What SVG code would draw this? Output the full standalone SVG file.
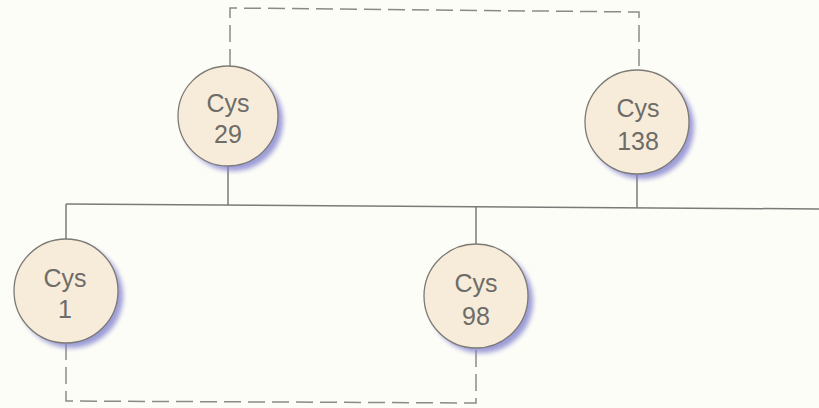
<svg xmlns="http://www.w3.org/2000/svg" width="819" height="408" viewBox="0 0 819 408">
<defs>
<style>
.bg{fill:#fdfdf8}
.node circle{fill:#f7ecda;stroke:#7d7a74;stroke-width:1.3}
.node circle.shadow{fill:#8383cf;stroke:none;opacity:0.8;filter:url(#blur)}
.node text{font-family:"Liberation Sans","DejaVu Sans",sans-serif;font-size:25px;fill:#6e6c68;text-anchor:middle}
.solid{fill:none;stroke:#7a7a78;stroke-width:1.5}
.dash{fill:none;stroke:#8a8a86;stroke-width:1.5;stroke-dasharray:17 7}
</style>
<filter id="blur" x="-20%" y="-20%" width="140%" height="140%"><feGaussianBlur stdDeviation="2.5"/></filter>
</defs>
<rect class="bg" x="0" y="0" width="819" height="408"/>
<g id="connectors">
<polyline class="solid" points="66,204 819,209"/>
<line class="solid" x1="66" y1="204" x2="66" y2="239"/>
<line class="solid" x1="228" y1="166" x2="228" y2="205"/>
<line class="solid" x1="476" y1="206" x2="476" y2="244"/>
<line class="solid" x1="637" y1="174" x2="637" y2="208"/>
<polyline class="dash" points="230,66 230,8 639,12 639,70"/>
<polyline class="dash" points="66,343 66,401 476,403 476,348"/>
</g>
<g id="cys29" class="node">
<circle class="shadow" cx="233" cy="121" r="50"/>
<circle cx="228" cy="116" r="50"/>
<text x="228" y="112">Cys</text>
<text x="228" y="143">29</text>
</g>
<g id="cys138" class="node">
<circle class="shadow" cx="642" cy="127" r="52"/>
<circle cx="637" cy="122" r="52"/>
<text x="638" y="117">Cys</text>
<text x="638" y="150">138</text>
</g>
<g id="cys1" class="node">
<circle class="shadow" cx="71" cy="296" r="52"/>
<circle cx="66" cy="291" r="52"/>
<text x="65" y="287">Cys</text>
<text x="65" y="318">1</text>
</g>
<g id="cys98" class="node">
<circle class="shadow" cx="481" cy="301" r="52"/>
<circle cx="476" cy="296" r="52"/>
<text x="476" y="292">Cys</text>
<text x="476" y="325">98</text>
</g>
</svg>
